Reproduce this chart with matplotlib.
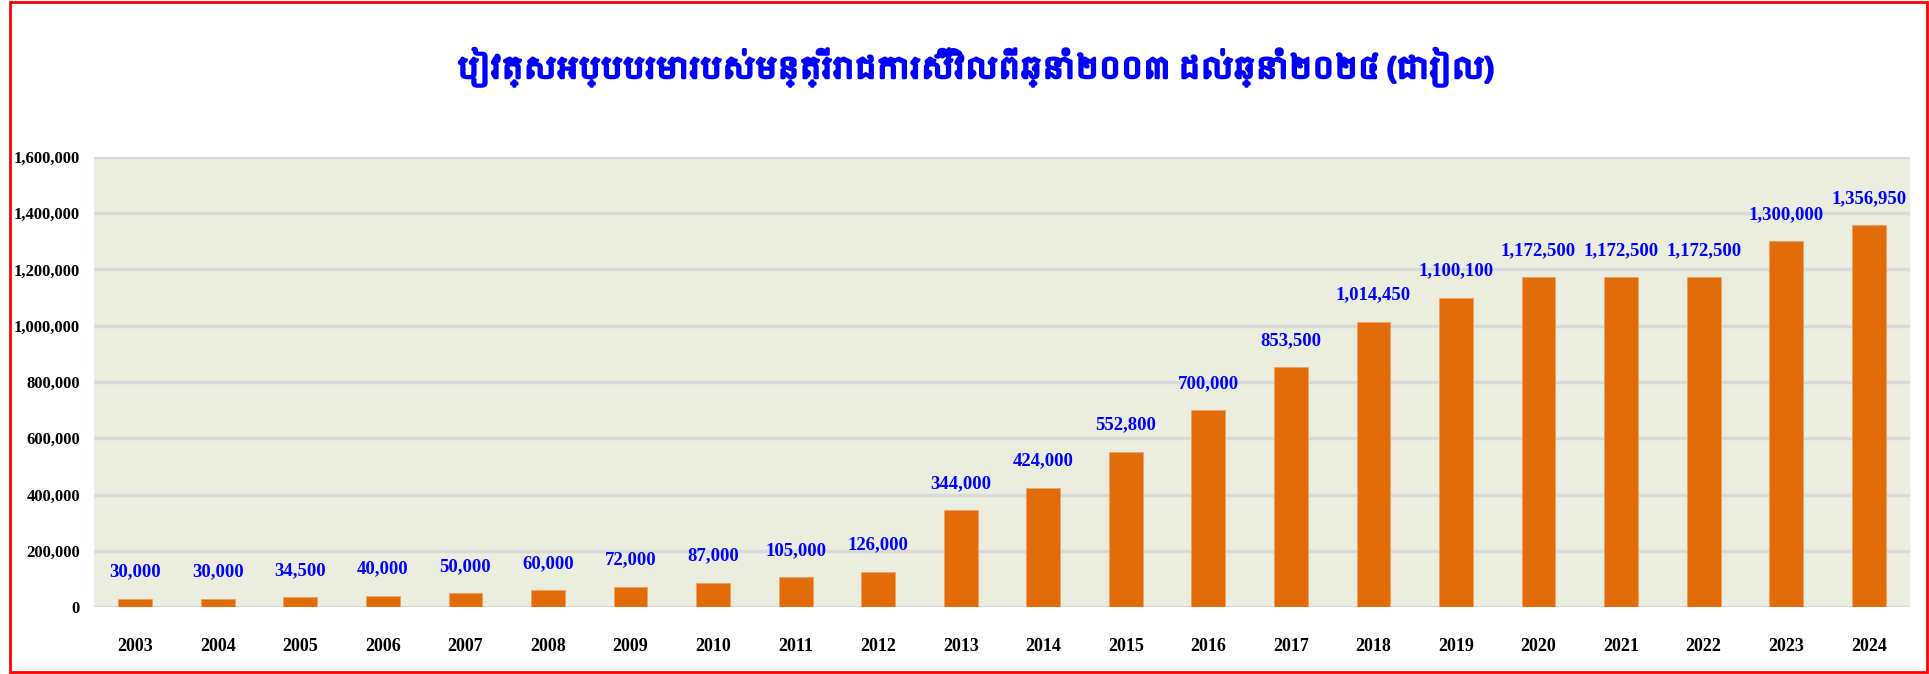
import matplotlib
matplotlib.use("Agg")
import matplotlib.pyplot as plt
import matplotlib.patheffects as pe
from matplotlib import font_manager
from matplotlib.patches import Rectangle
from matplotlib.ticker import FuncFormatter, MultipleLocator

years = ["2003", "2004", "2005", "2006", "2007", "2008", "2009", "2010", "2011", "2012", "2013",
         "2014", "2015", "2016", "2017", "2018", "2019", "2020", "2021", "2022", "2023", "2024"]
salary = [30000, 30000, 34500, 40000, 50000, 60000, 72000, 87000, 105000, 126000, 344000,
          424000, 552800, 700000, 853500, 1014450, 1100100, 1172500, 1172500, 1172500, 1300000, 1356950]
title = "បៀវត្សអប្បបរមារបស់មន្ត្រីរាជការស៊ីវិលពីឆ្នាំ២០០៣ ដល់ឆ្នាំ២០២៤ (ជារៀល)"

BAR_C = "#E36C0A"
BG_C = "#EBEEDF"
LABEL_C = "#0000FF"

names = {f.name for f in font_manager.fontManager.ttflist}
num_font = "Liberation Serif"
khmer = [n for n in sorted(names) if "Khmer" in n]
title_fonts = khmer + ["DejaVu Sans"]

fig = plt.figure(figsize=(19.29, 6.74), dpi=100)
ax = fig.add_axes([94 / 1929, 67 / 674, 1816 / 1929, 450 / 674])
ax.set_facecolor(BG_C)

xs = range(len(years))
ax.bar(xs, salary, width=0.41, color=BAR_C, edgecolor="#F0A060", linewidth=0.6, zorder=3)
for x, v in zip(xs, salary):
    ax.annotate(f"{v:,}", (x, v), xytext=(0, 13), textcoords="offset points",
                ha="center", va="bottom", color=LABEL_C, fontsize=13.5,
                fontweight="bold", family=num_font)

ax.set_xlim(-0.5, len(years) - 0.5)
ax.set_ylim(0, 1600000)
ax.yaxis.set_major_locator(MultipleLocator(200000))
ax.yaxis.set_major_formatter(FuncFormatter(lambda v, _: f"{int(v):,}"))
ax.yaxis.grid(True, color="#D9D9D9", linewidth=2.5, zorder=0)
ax.set_axisbelow(True)
ax.set_xticks(list(xs))
ax.set_xticklabels(years)
ax.tick_params(axis="both", length=0)
ax.tick_params(axis="x", pad=22, labelsize=13)
ax.tick_params(axis="y", pad=10, labelsize=12)
for lab in ax.get_xticklabels() + ax.get_yticklabels():
    lab.set_fontweight("bold")
    lab.set_family(num_font)
for s in ax.spines.values():
    s.set_visible(False)

fig.text(0.505, 0.9, title, ha="center", va="center", fontsize=21, fontweight="bold",
         color=LABEL_C, family=title_fonts,
         path_effects=[pe.withStroke(linewidth=2, foreground=LABEL_C)])

fig.patches.append(Rectangle((10 / 1929, 2 / 674), 1917 / 1929, 670 / 674,
                             transform=fig.transFigure, fill=False, edgecolor="red",
                             linewidth=2))

fig.savefig("out.png", dpi=100)
